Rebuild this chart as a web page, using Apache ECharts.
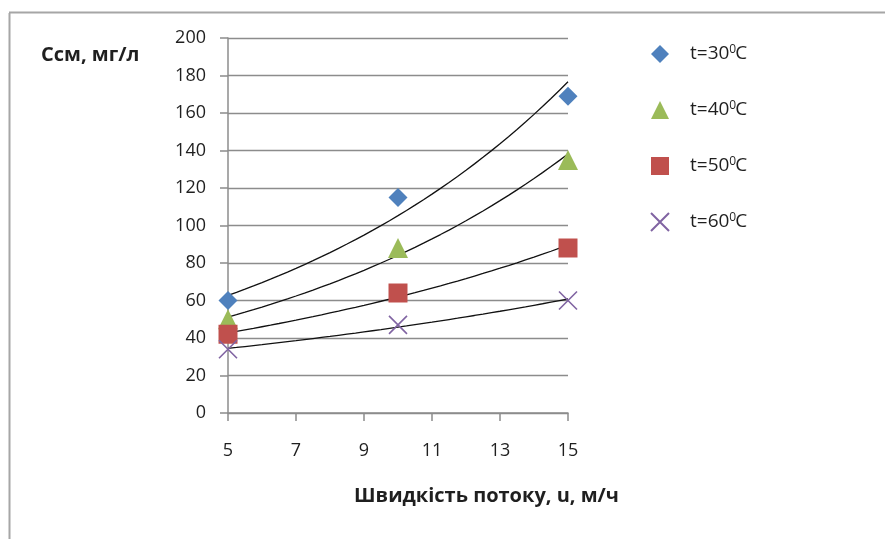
<!DOCTYPE html>
<html><head><meta charset="utf-8">
<script src="https://cdn.jsdelivr.net/npm/echarts@6/dist/echarts.min.js"></script>
<style>html,body{margin:0;padding:0;background:#fff}#c{width:885px;height:539px}</style>
</head><body><div id="c"></div>
<script>
const xValues = [5, 10, 15];
const temps = ['30', '40', '50', '60'];
const t30 = [60, 115, 169];
const t40 = [50, 88, 135];
const t50 = [42, 64, 88];
const t60 = [34, 47, 60];
const yTicks = [0, 20, 40, 60, 80, 100, 120, 140, 160, 180, 200];
const xTicks = [5, 7, 9, 11, 13, 15];
const colors = ['#4F81BD', '#9BBB59', '#C0504D', '#8064A2'];
const yTitle = 'Ccм, мг/л';
const xTitle = 'Швидкість потоку, u, м/ч';

const allY = [t30, t40, t50, t60];
const crossPath = 'path://M0,0L10,10M10,0L0,10';
const symbols = ['diamond', 'triangle', 'rect', crossPath];
const sizes = [19, 20, 19, 18];

// exponential trend line (least-squares fit on ln y), as in the original spreadsheet
function expFit(xs, ys) {
  const n = xs.length;
  const ly = ys.map(Math.log);
  const mx = xs.reduce((a, b) => a + b, 0) / n;
  const my = ly.reduce((a, b) => a + b, 0) / n;
  let sxy = 0, sxx = 0;
  for (let i = 0; i < n; i++) { sxy += (xs[i] - mx) * (ly[i] - my); sxx += (xs[i] - mx) ** 2; }
  const b = sxy / sxx, a = my - b * mx;
  const pts = [];
  for (let k = 0; k <= 40; k++) {
    const x = xs[0] + (xs[n - 1] - xs[0]) * k / 40;
    pts.push([x, Math.exp(a + b * x)]);
  }
  return pts;
}

const names = temps.map(t => 't=' + t + '0C');
const series = [];
allY.forEach((ys, i) => {
  series.push({
    type: 'line', data: expFit(xValues, ys), showSymbol: false, symbol: 'none',
    lineStyle: { color: '#111', width: 1.3 }, silent: true, z: 2, legendHoverLink: false
  });
});
allY.forEach((ys, i) => {
  const isCross = i === 3;
  series.push({
    name: names[i], type: 'scatter', data: xValues.map((x, j) => [x, ys[j]]),
    symbol: symbols[i], symbolSize: sizes[i], z: 3,
    itemStyle: isCross ? { color: 'rgba(0,0,0,0)', borderColor: colors[i], borderWidth: 1.6, opacity: 1 } : { color: colors[i], opacity: 1 }
  });
});

const chart = echarts.init(document.getElementById('c'), null, { renderer: 'canvas' });
chart.setOption({
  animation: false,
  backgroundColor: '#fff',
  grid: { left: 228, right: 317, top: 38, bottom: 126 },
  xAxis: {
    type: 'value', min: 5, max: 15, interval: 2,
    axisLine: { show: true, lineStyle: { color: '#8c8c8c', width: 1.5 } },
    axisTick: { show: true, length: 8, lineStyle: { color: '#8c8c8c', width: 1.5 } },
    splitLine: { show: false },
    axisLabel: { margin: 29, fontSize: 18, color: '#1f1f1f', fontFamily: 'Open Sans' }
  },
  yAxis: {
    type: 'value', min: 0, max: 200, interval: 20,
    axisLine: { show: true, lineStyle: { color: '#8c8c8c', width: 1.5 } },
    axisTick: { show: true, length: 8, lineStyle: { color: '#8c8c8c', width: 1.5 } },
    splitLine: { show: true, lineStyle: { color: '#8c8c8c', width: 1.3 } },
    axisLabel: { margin: 22, fontSize: 18, color: '#1f1f1f', fontFamily: 'Open Sans' }
  },
  legend: {
    orient: 'vertical', left: 645, top: 39, itemGap: 34, itemWidth: 18, itemHeight: 18,
    data: names.map((n, i) => ({ name: n, icon: i === 3 ? crossPath : symbols[i] })),
    formatter: n => '{t|' + n.slice(0, 4) + '}{s|0}{t|C}',
    textStyle: {
      padding: [0, 0, 0, 16],
      rich: {
        t: { fontSize: 19, lineHeight: 20, color: '#1f1f1f', fontFamily: 'Open Sans' },
        s: { fontSize: 12, lineHeight: 20, color: '#1f1f1f', fontFamily: 'Open Sans', verticalAlign: 'top', padding: [0, -1, 10, 0] }
      }
    }
  },
  graphic: [
    { type: 'line', shape: { x1: 9.5, y1: 13, x2: 9.5, y2: 539 }, style: { stroke: '#a6a6a6', lineWidth: 2 } },
    { type: 'line', shape: { x1: 9, y1: 12.5, x2: 885, y2: 12.5 }, style: { stroke: '#a6a6a6', lineWidth: 2 } },
    { type: 'text', left: 41, top: 45, style: { text: yTitle, font: 'bold 20px "Open Sans"', fill: '#1f1f1f' } },
    { type: 'text', left: 354, top: 486, style: { text: xTitle, font: 'bold 20px "Open Sans"', fill: '#1f1f1f' } }
  ],
  series: series
});
</script></body></html>
